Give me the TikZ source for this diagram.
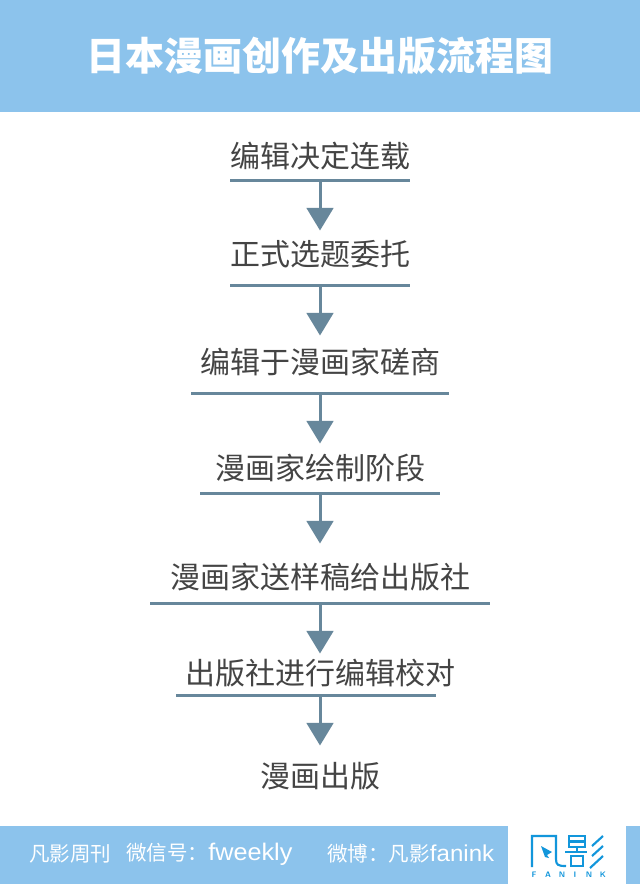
\documentclass[tikz,border=0pt]{standalone}
\usepackage{fontspec}
\newfontfamily\cjk{Noto Sans CJK SC}
\newfontfamily\latinfoot[FakeStretch=1.05]{Liberation Sans}
\usetikzlibrary{arrows.meta}
\definecolor{barblue}{HTML}{8CC3EC}
\definecolor{linegray}{HTML}{67879B}
\definecolor{textgray}{HTML}{444444}
\definecolor{logoblue}{HTML}{1296DB}
\newcommand{\footlatin}[2]{{\latinfoot\fontsize{#1}{18}\selectfont #2}}
\tikzset{
  bar/.style={fill=barblue,draw=none},
  stage/.style={text=textgray,font=\cjk\fontsize{22.5}{24}\selectfont,inner sep=0pt,anchor=center},
  rule/.style={draw=linegray,line width=2.25pt},
  flow/.style={draw=linegray,line width=2.25pt,-{Triangle[length=17pt,width=20pt]}},
  foot/.style={text=white,font=\cjk\fontsize{15.4}{17}\selectfont,inner sep=0pt,anchor=west},
  logo/.style={draw=logoblue,line width=1.6pt}
}
\begin{document}
\begin{tikzpicture}[x=0.75pt,y=-0.75pt]
   \useasboundingbox (0,0) rectangle (640,884);
   \fill[white] (0,0) rectangle (640,884);
   \fill[bar] (0,0) rectangle (640,112);
   \fill[bar] (0,826) rectangle (508,884);
   \fill[bar] (626,826) rectangle (640,884);
   \node[text=white,font=\cjk\bfseries\fontsize{29.2}{31}\selectfont,inner sep=0pt] (title) at (320,56) {日本漫画创作及出版流程图};
   % stages
   \node[stage] (s1) at (320,156) {编辑决定连载};
   \node[stage] (s2) at (320,254) {正式选题委托};
   \node[stage] (s3) at (320,362) {编辑于漫画家磋商};
   \node[stage] (s4) at (320,468) {漫画家绘制阶段};
   \node[stage] (s5) at (320,577) {漫画家送样稿给出版社};
   \node[stage] (s6) at (320,673) {出版社进行编辑校对};
   \node[stage] (s7) at (320,776) {漫画出版};
   % rules under the stages
   \foreach \name/\ypos/\xa/\xb in {1/180.5/230/410,2/285.5/230/410,3/393.5/191/449,4/493.5/200/440,5/603.5/150/490,6/695.5/176/436}{
     \coordinate (l\name) at (\xa,\ypos);
     \coordinate (r\name) at (\xb,\ypos);
     \coordinate (m\name) at (320,\ypos);
     \coordinate (t\name) at (320,\ypos+50);
     \draw[rule] (l\name) -- (r\name);
     \draw[flow] (m\name) -- (t\name);
   }
   % footer
   \node[foot] (f1) at (29,854) {凡影周刊};
   \node[foot] (f2) at (126,854) {微信号：\footlatin{18}{fweekly}};
   \node[foot] (f3) at (327,854) {微博：凡影\footlatin{17.2}{fanink}};
   % logo
   \draw[logo] (532,867) -- (532,836) -- (556,836) -- (556,859) .. controls (556,865) and (558,866) .. (566,866);
   \fill[logoblue] (541,846) -- (552,852) -- (547,855) -- (549,858) -- (545,857) -- cycle;
   \draw[logo] (569,836) rectangle (585,847);
   \draw[logo] (569,841.5) -- (585,841.5);
   \draw[logo] (565,852) -- (587,852);
   \draw[logo] (571,856) rectangle (583,866);
   \draw[logo] (577,847) -- (577,852);
   \draw[logo] (603,836) -- (592,846) (603,846) -- (592,856) (603,856) -- (590,868);
   \foreach \ch/\xpos in {F/534,A/548,N/562,I/575,N/589,K/603}{
     \node[text=logoblue,font=\sffamily\bfseries\fontsize{6}{7}\selectfont,inner sep=0pt] (k\xpos) at (\xpos,875) {\ch};
   }
\end{tikzpicture}
\end{document}
